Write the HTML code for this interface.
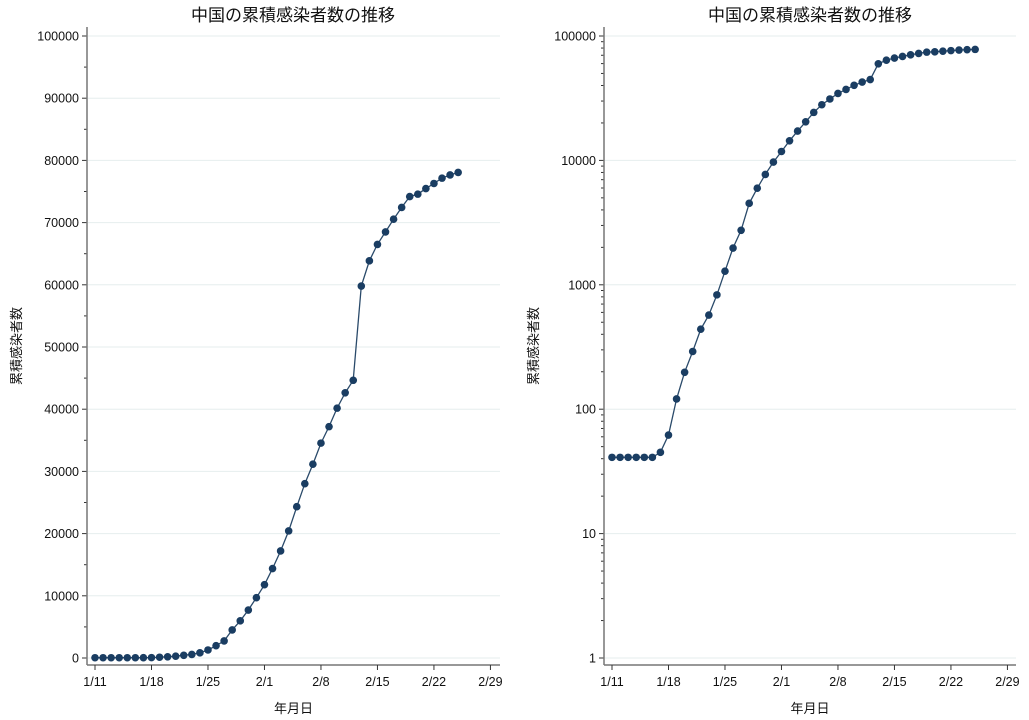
<!DOCTYPE html>
<html><head><meta charset="utf-8">
<style>
body{margin:0;background:#fff;}
svg{display:block;font-family:"Liberation Sans","Noto Sans CJK JP",sans-serif;}
</style></head>
<body>
<svg id="chart" width="1029" height="720" viewBox="0 0 1029 720"></svg>
<script>
const dayLabels=["1/11","1/18","1/25","2/1","2/8","2/15","2/22","2/29"];
const dayTickOffsets=[0,7,14,21,28,35,42,49];
const cases=[41,41,41,41,41,41,45,62,121,198,291,440,571,830,1287,1975,2744,4515,5974,7711,9692,11791,14380,17205,20438,24324,28018,31161,34546,37198,40171,42638,44653,59804,63851,66492,68500,70548,72436,74185,74576,75465,76288,77150,77658,78064];
const linTicks=[0,10000,20000,30000,40000,50000,60000,70000,80000,90000,100000];
const logTicks=[1,10,100,1000,10000,100000];
const NS="http://www.w3.org/2000/svg";
const svg=document.getElementById('chart');
function mk(tag,attrs,parent){const e=document.createElementNS(NS,tag);for(const k in attrs)e.setAttribute(k,attrs[k]);(parent||svg).appendChild(e);return e;}

function drawPanel(p){
  const g=mk('g',{});
  
  
  const xs=d=>p.x0+d*8.07;
  const ys=p.ys;
  // title
  const t=mk('text',{x:p.cx,y:21,'text-anchor':'middle','font-size':17,fill:'#111'},g);
  t.textContent='中国の累積感染者数の推移';
  
  
  // gridlines + y ticks
  p.ticks.forEach(v=>{
    const y=ys(v);
    const gl=mk('line',{x1:p.ax+1,x2:p.ax2,y1:y,y2:y,stroke:'#e6eeee','stroke-width':1},g);
    
    
    mk('line',{x1:p.ax-5,x2:p.ax,y1:y,y2:y,stroke:'#333','stroke-width':1},g);
    const lb=mk('text',{x:p.ax-8,y:y+4.5,'text-anchor':'end','font-size':12.5,fill:'#111'},g);
    lb.textContent=String(v);
    
    
  });
  // minor ticks
  p.minor.forEach(v=>{const y=ys(v);mk('line',{x1:p.ax-3,x2:p.ax,y1:y,y2:y,stroke:'#333','stroke-width':1},g);});
  // axes
  const ya=mk('line',{x1:p.ax,x2:p.ax,y1:27,y2:665,stroke:'#777','stroke-width':1.5},g);
  
  
  const xa=mk('line',{x1:p.ax,x2:p.ax2,y1:665,y2:665,stroke:'#777','stroke-width':1.5},g);
  
  
  dayTickOffsets.forEach((d,i)=>{
    const x=xs(d);
    mk('line',{x1:x,x2:x,y1:665,y2:670,stroke:'#333','stroke-width':1},g);
    const lb=mk('text',{x:x,y:686,'text-anchor':'middle','font-size':12.5,fill:'#111'},g);
    lb.textContent=dayLabels[i];
    
    
  });
  const xl=mk('text',{x:(p.ax+p.ax2)/2,y:713,'text-anchor':'middle','font-size':13,fill:'#111'},g);
  xl.textContent='年月日';
  
  
  const yl=mk('text',{x:0,y:0,'text-anchor':'middle','font-size':13,fill:'#111',transform:`translate(${p.ax-66},346) rotate(-90)`},g);
  yl.textContent='累積感染者数';
  
  
  // series
  const pts=cases.map((v,i)=>xs(i).toFixed(1)+','+ys(v).toFixed(1)).join(' ');
  const ln=mk('polyline',{points:pts,fill:'none',stroke:'#2a4a6a','stroke-width':1.3},g);
  
  
  cases.forEach((v,i)=>{
    const c=mk('circle',{cx:xs(i),cy:ys(v),r:3.8,fill:'#1a3d62'},g);
    
    
  });
}
const linMinor=[];for(let v=5000;v<100000;v+=10000)linMinor.push(v);
const logMinor=[];for(let e=0;e<5;e++)for(let m=2;m<10;m++)logMinor.push(m*Math.pow(10,e));
drawPanel({name:'linear-panel',x0:95,ax:87,ax2:500,cx:293,ticks:linTicks,minor:linMinor,
  ys:v=>658-v*622/100000});
drawPanel({name:'log-panel',x0:612,ax:604,ax2:1016,cx:810,ticks:logTicks,minor:logMinor,
  ys:v=>658-Math.log10(v)*124.4});
</script>
</body></html>
